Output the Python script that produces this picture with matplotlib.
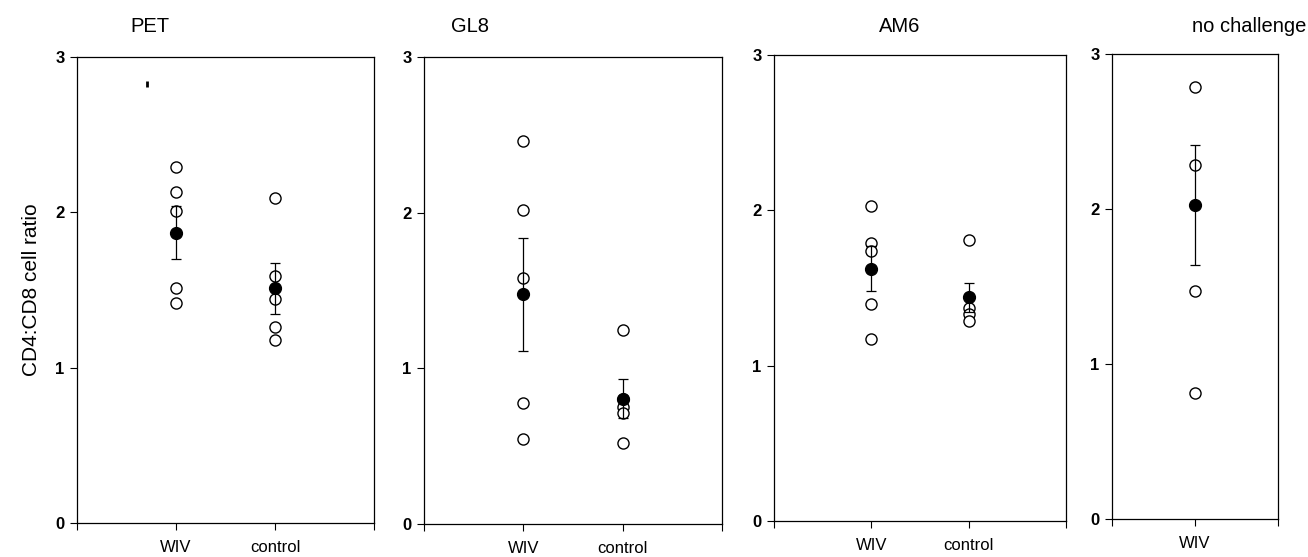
import numpy as np
import matplotlib
matplotlib.use('Agg')
import matplotlib.pyplot as plt

plt.rcParams['font.family'] = ['Liberation Sans', 'DejaVu Sans']

# panel titles and group names
titles = ['PET', 'GL8', 'AM6', 'no challenge']
groups = [['WIV', 'control'], ['WIV', 'control'], ['WIV', 'control'], ['WIV']]

# individual values (open circles) per panel, per group
pet_wiv = [2.29, 2.13, 2.01, 1.51, 1.415]
pet_ctl = [2.09, 1.59, 1.44, 1.26, 1.18]
gl8_wiv = [2.46, 2.02, 1.58, 0.78, 0.545]
gl8_ctl = [1.245, 0.80, 0.75, 0.71, 0.52]
am6_wiv = [2.03, 1.79, 1.74, 1.40, 1.17]
am6_ctl = [1.81, 1.37, 1.33, 1.29]
noc_wiv = [2.785, 2.285, 1.47, 0.815]

# group means and standard errors (filled circles + bars)
pet_mean = [1.87, 1.51]
pet_se = [0.168, 0.162]
gl8_mean = [1.475, 0.805]
gl8_se = [0.363, 0.125]
am6_mean = [1.625, 1.44]
am6_se = [0.146, 0.095]
noc_mean = [2.025]
noc_se = [0.385]

# stray mark seen in the PET panel
stray_x = [0.707]
stray_y = [2.826]

points = [[pet_wiv, pet_ctl], [gl8_wiv, gl8_ctl], [am6_wiv, am6_ctl], [noc_wiv]]
means = [pet_mean, gl8_mean, am6_mean, noc_mean]
ses = [pet_se, gl8_se, am6_se, noc_se]

W, H = 1308, 557
fig = plt.figure(figsize=(W / 100, H / 100), dpi=100)

# axes boxes in pixels: left, right, top, bottom
boxes = [(77, 374, 57, 523), (424, 722, 57, 524), (774, 1066, 55, 521), (1112, 1278, 54, 519)]
title_pos = [(150, 26), (470, 26), (900, 26), (1249, 26)]

for i in range(4):
    l, r, t, b = boxes[i]
    ax = fig.add_axes([l / W, 1 - b / H, (r - l) / W, (b - t) / H])
    n = len(groups[i])
    xs = np.arange(1, n + 1)
    for j in range(n):
        ax.plot([xs[j]] * len(points[i][j]), points[i][j], 'o', mfc='white', mec='black',
                mew=1.0, ms=8, zorder=2)
    ax.errorbar(xs, means[i], yerr=ses[i], fmt='o', color='black', ms=8.5, elinewidth=0.9,
                capsize=3.5, capthick=0.9, zorder=3)
    if i == 0:
        ax.plot(stray_x, stray_y, '|', color='black', ms=4, mew=2)
    ax.set_xlim(0, n + 1)
    ax.set_ylim(0, 3)
    ax.set_yticks([0, 1, 2, 3])
    ax.set_yticklabels(['0', '1', '2', '3'], fontsize=12, fontweight='bold')
    ax.set_xticks(list(range(0, n + 2)))
    ax.set_xticklabels([''] + groups[i] + [''], fontsize=12)
    ax.tick_params(axis='both', direction='out', length=5, width=0.8, pad=4)
    ax.tick_params(axis='x', pad=7)
    for s in ax.spines.values():
        s.set_linewidth(0.9)
    if i == 0:
        ax.set_ylabel('CD4:CD8 cell ratio', fontsize=15, labelpad=10)
    fig.text(title_pos[i][0] / W, 1 - title_pos[i][1] / H, titles[i], fontsize=14.5,
             ha='center', va='center')

fig.savefig('out.png', dpi=100)
